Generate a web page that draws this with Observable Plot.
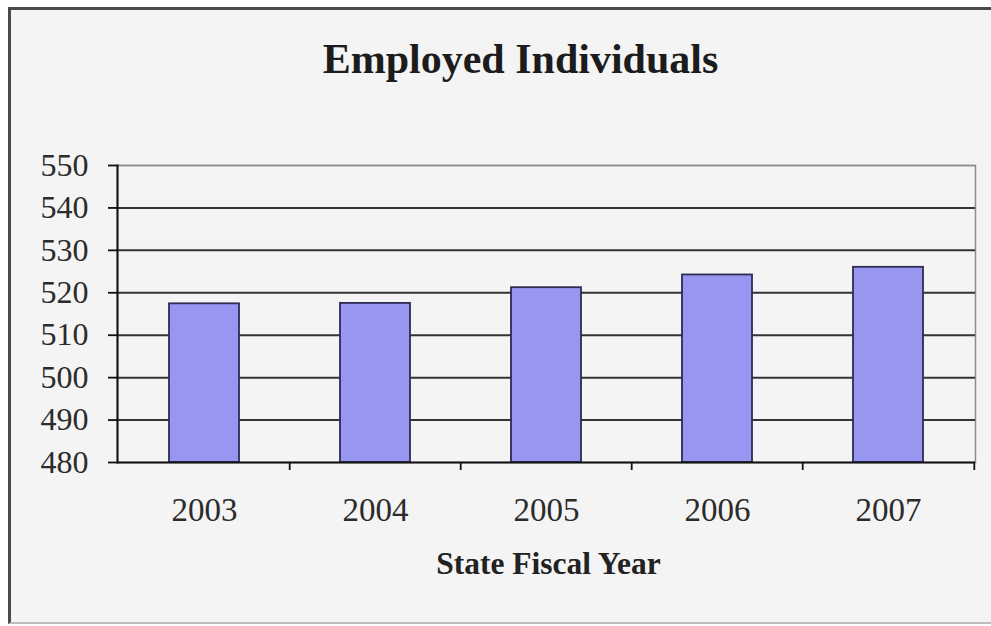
<!DOCTYPE html>
<html>
<head>
<meta charset="utf-8">
<script src="https://cdn.jsdelivr.net/npm/d3@7"></script>
<script src="https://cdn.jsdelivr.net/npm/@observablehq/plot@0.6"></script>
<style>
  html, body { margin: 0; padding: 0; background: #ffffff; }
  #wrap { position: relative; width: 991px; height: 626px; overflow: hidden; }
  #frame {
    position: absolute; left: 8px; top: 7px; width: 1000px; height: 612px;
    background: #f4f4f4;
    border-left: 3px solid #4a4a4a; border-top: 3px solid #4a4a4a;
    border-bottom: 2px solid #bdbdbd;
  }
  #chart { position: absolute; left: 0; top: 0; }
  #chart svg { overflow: visible; }
</style>
</head>
<body>
<div id="wrap">
  <div id="frame"></div>
  <div id="chart"></div>
</div>
<script>
// ---- data ----
const years = ["2003", "2004", "2005", "2006", "2007"];
const employed = [517.4, 517.5, 521.2, 524.2, 526.0];
const yTicks = [480, 490, 500, 510, 520, 530, 540, 550];
const title = "Employed Individuals";
const xLabel = "State Fiscal Year";

const data = years.map((y, i) => ({year: y, value: employed[i]}));

// ---- layout ----
const W = 991, H = 626, ML = 117, MR = 16, MT = 165, MB = 164;
const step = (W - ML - MR) / years.length;
const serif = "'Liberation Serif', 'Times New Roman', serif";
const tickOpts = {x: d => d, y1: yTicks[0], y2: yTicks[0], insetBottom: -8, strokeWidth: 1.8, stroke: "#111"};

const chart = Plot.plot({
  width: W,
  height: H,
  marginLeft: ML,
  marginRight: MR,
  marginTop: MT,
  marginBottom: MB,
  style: {background: "transparent", fontFamily: serif, color: "#2b2b2b", overflow: "visible"},
  x: {domain: years, paddingInner: 0.59, paddingOuter: 0.295, label: null},
  y: {domain: [yTicks[0], yTicks[yTicks.length - 1]], label: null},
  marks: [
    Plot.frame({stroke: "#8c8c8c", strokeWidth: 1.5}),
    Plot.ruleY(yTicks.slice(1, -1), {stroke: "#333333", strokeWidth: 2}),
    Plot.ruleY(yTicks.slice(-1), {stroke: "#8c8c8c", strokeWidth: 1.5}),
    Plot.barY(data, {x: "year", y1: yTicks[0], y2: "value", fill: "#9797f2", stroke: "#2c2c55", strokeWidth: 1.8}),
    Plot.ruleY(yTicks.slice(0, 1), {stroke: "#111111", strokeWidth: 2}),
    Plot.frame({anchor: "left", stroke: "#111111", strokeWidth: 2}),
    // category boundary ticks
    Plot.ruleX(years.slice(1), {...tickOpts, dx: -step / 2}),
    Plot.ruleX(years.slice(-1), {...tickOpts, dx: step / 2}),
    Plot.axisY({ticks: yTicks, tickSize: 9, tickPadding: 20, fontSize: 32, fontFamily: serif, stroke: "#111", strokeWidth: 1.8, label: null}),
    Plot.axisX({tickSize: 0, tickPadding: 35, fontSize: 33, fontFamily: serif, label: null}),
    Plot.text([title], {frameAnchor: "top", dx: -26, dy: -106, lineAnchor: "middle", fontSize: 42, fontWeight: "bold", fontFamily: serif, fill: "#1c1c1c"}),
    Plot.text([xLabel], {frameAnchor: "bottom", dx: 2, dy: 101, lineAnchor: "middle", fontSize: 31.5, fontWeight: "bold", fontFamily: serif, fill: "#222"})
  ]
});
document.getElementById("chart").appendChild(chart);
</script>
</body>
</html>
